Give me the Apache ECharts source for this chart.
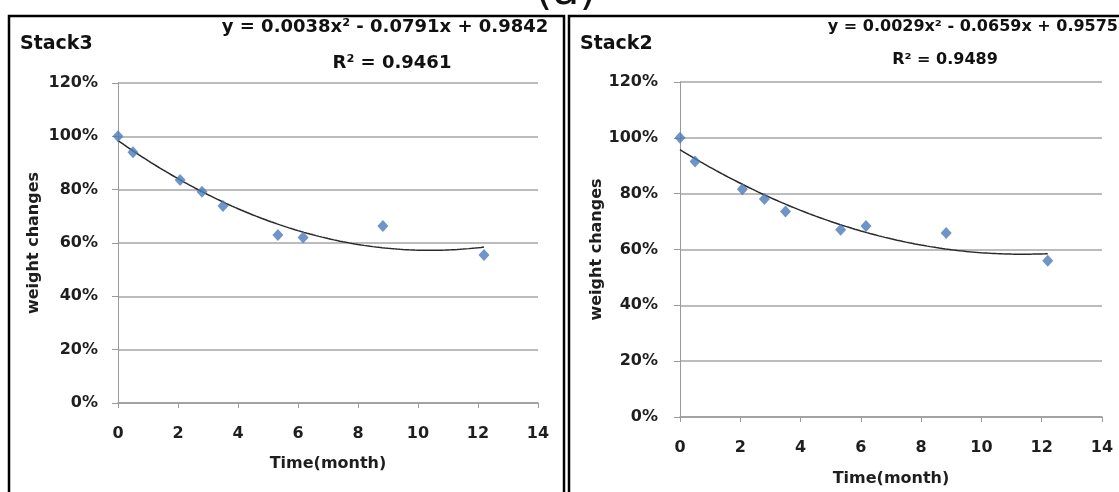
<!DOCTYPE html>
<html>
<head>
<meta charset="utf-8">
<script src="https://cdn.jsdelivr.net/npm/echarts@6/dist/echarts.min.js"></script>
<style>
html,body{margin:0;padding:0;background:#fff;}
#chart{width:1119px;height:492px;}
</style>
</head>
<body>
<div id="chart"></div>
<script>
// ---- data ----
const timeMonths = [0, 0.5, 2.07, 2.8, 3.5, 5.33, 6.17, 8.83, 12.2];
const stack3Values = [1.0, 0.94, 0.836, 0.792, 0.739, 0.63, 0.621, 0.664, 0.555];
const stack2Values = [1.0, 0.915, 0.816, 0.781, 0.736, 0.671, 0.684, 0.659, 0.56];
// polynomial trendline coefficients printed on the chart [a, b, c] for a*x^2 + b*x + c
const stack3Trend = [0.0038, -0.0791, 0.9842];
const stack2Trend = [0.0029, -0.0659, 0.9575];
const trendEnd = 12.2;
const panelTitles = ['Stack3', 'Stack2'];
const equationTexts = ['y = 0.0038x² - 0.0791x + 0.9842', 'y = 0.0029x² - 0.0659x + 0.9575'];
const r2Texts = ['R² = 0.9461', 'R² = 0.9489'];
const xAxisName = 'Time(month)';
const yAxisName = 'weight changes';
const captionText = '(a)';

function trendPoints(coef) {
  const pts = [];
  for (let i = 0; i <= 122; i++) {
    const x = i / 10;
    pts.push([x, coef[0] * x * x + coef[1] * x + coef[2]]);
  }
  return pts;
}
function pairs(xs, ys) { return xs.map((x, i) => [x, ys[i]]); }

const FONT = 'DejaVu Sans';
const TXT = '#1e1e1e';
const GRID = '#a6a6a6';
const MARK = '#4a7bb7';

function xAx(gi, nameGap, margin) {
  return {
    type: 'value', gridIndex: gi, min: 0, max: 14, interval: 2,
    name: xAxisName, nameLocation: 'middle', nameGap: nameGap,
    nameTextStyle: { fontFamily: FONT, fontWeight: 'bold', fontSize: 16, color: TXT },
    axisLine: { show: true, lineStyle: { color: '#9a9a9a', width: 1.5 } },
    axisTick: { show: true, inside: false, length: 5, lineStyle: { color: '#9a9a9a' } },
    axisLabel: { fontFamily: FONT, fontWeight: 'bold', fontSize: 16, color: TXT, margin: margin },
    splitLine: { show: false }
  };
}
function yAx(gi, nameGap, margin) {
  return {
    type: 'value', gridIndex: gi, min: 0, max: 1.2, interval: 0.2,
    name: yAxisName, nameLocation: 'middle', nameGap: nameGap, nameRotate: 90,
    nameTextStyle: { fontFamily: FONT, fontWeight: 'bold', fontSize: 16, color: TXT },
    axisLine: { show: true, lineStyle: { color: '#9a9a9a', width: 1 } },
    axisTick: { show: true, inside: false, length: 6, lineStyle: { color: '#9a9a9a' } },
    axisLabel: { fontFamily: FONT, fontWeight: 'bold', fontSize: 16, color: TXT, margin: margin,
      formatter: v => Math.round(v * 100) + '%' },
    splitLine: { show: true, lineStyle: { color: GRID, width: 1.5 } }
  };
}
function scatter(idx, vals) {
  return {
    type: 'scatter', xAxisIndex: idx, yAxisIndex: idx,
    data: pairs(timeMonths, vals), symbol: 'diamond', symbolSize: [11, 12],
    itemStyle: { color: MARK }, z: 3, silent: true
  };
}
function trend(idx, coef) {
  return {
    type: 'line', xAxisIndex: idx, yAxisIndex: idx,
    data: trendPoints(coef).filter(p => p[0] <= trendEnd), showSymbol: false,
    lineStyle: { color: '#2a2a2a', width: 1.5 }, z: 2, silent: true
  };
}

const chart = echarts.init(document.getElementById('chart'), null, { renderer: 'canvas' });
chart.setOption({
  animation: false,
  backgroundColor: '#fff',
  grid: [
    { left: 118, top: 83, width: 420, height: 320 },
    { left: 680, top: 82, width: 422, height: 338 }
  ],
  xAxis: [xAx(0, 53, 23), xAx(1, 54, 23)],
  yAxis: [yAx(0, 76, 20), yAx(1, 75, 22)],
  series: [
    trend(0, stack3Trend), scatter(0, stack3Values),
    trend(1, stack2Trend), scatter(1, stack2Values)
  ],
  graphic: [
    { type: 'rect', shape: { x: 9, y: 16, width: 555, height: 500 },
      style: { fill: 'none', stroke: '#000', lineWidth: 2.5 }, z: 10 },
    { type: 'rect', shape: { x: 569, y: 16, width: 600, height: 500 },
      style: { fill: 'none', stroke: '#000', lineWidth: 2.5 }, z: 10 },
    { type: 'text', x: 566, y: 15, style: { text: captionText, font: '44px "DejaVu Sans"', fill: '#111', align: 'center', verticalAlign: 'bottom' } },
    { type: 'text', left: 20, top: 35, style: { text: panelTitles[0], font: 'bold 19px "DejaVu Sans"', fill: '#111' } },
    { type: 'text', left: 580, top: 35, style: { text: panelTitles[1], font: 'bold 19px "DejaVu Sans"', fill: '#111' } },
    { type: 'text', x: 385, y: 27, style: { text: equationTexts[0], font: 'bold 18px "DejaVu Sans"', fill: '#111', align: 'center', verticalAlign: 'middle' } },
    { type: 'text', x: 392, y: 63, style: { text: r2Texts[0], font: 'bold 18px "DejaVu Sans"', fill: '#111', align: 'center', verticalAlign: 'middle' } },
    { type: 'text', x: 1118, y: 27, style: { text: equationTexts[1], font: 'bold 16px "DejaVu Sans"', fill: '#111', align: 'right', verticalAlign: 'middle' } },
    { type: 'text', x: 945, y: 60, style: { text: r2Texts[1], font: 'bold 16px "DejaVu Sans"', fill: '#111', align: 'center', verticalAlign: 'middle' } }
  ]
});
</script>
</body>
</html>
